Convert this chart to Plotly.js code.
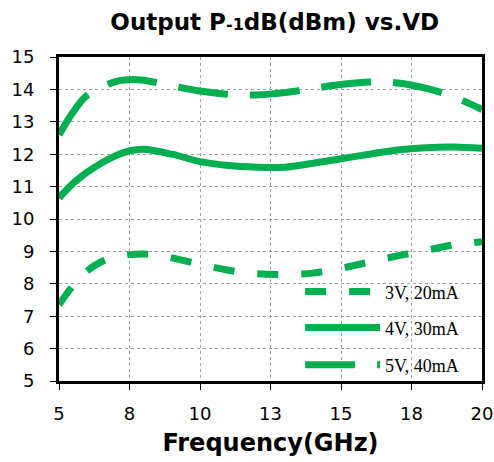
<!DOCTYPE html>
<html>
<head>
<meta charset="utf-8">
<script src="https://cdn.plot.ly/plotly-3.0.1.min.js"></script>
<style>html,body{margin:0;padding:0;background:#fff;}#chart{width:494px;height:462px;}</style>
</head>
<body>
<div id="chart"></div>
<script>
// Frequency (GHz)
const freq3V = [5, 5.5, 6, 6.5, 7, 7.5, 8, 8.5, 9, 10, 11, 12, 13, 14, 15, 16, 17, 18, 19, 20];
const p1dB_3V = [7.35, 7.95, 8.4, 8.68, 8.83, 8.9, 8.92, 8.88, 8.8, 8.6, 8.42, 8.31, 8.29, 8.33, 8.48, 8.67, 8.86, 9.03, 9.2, 9.3];

const freq4V = [5, 5.5, 6, 7, 7.5, 8, 9, 10, 11, 12, 13, 14, 15, 16, 17, 18, 19, 20];
const p1dB_4V = [10.65, 11.1, 11.45, 11.95, 12.1, 12.15, 12.0, 11.77, 11.65, 11.6, 11.6, 11.72, 11.86, 12.0, 12.13, 12.2, 12.22, 12.18];

const freq5V = [5, 5.5, 6, 7, 7.5, 8, 8.5, 9, 10, 11, 12, 13, 14, 15, 16, 17, 18, 19, 20];
const p1dB_5V = [12.6, 13.3, 13.82, 14.24, 14.3, 14.28, 14.2, 14.11, 13.95, 13.85, 13.83, 13.9, 14.03, 14.15, 14.23, 14.2, 14.04, 13.77, 13.38];

const seriesNames = ["3V, 20mA", "4V, 30mA", "5V, 40mA"];
const xTickVals = [5, 7.5, 10, 12.5, 15, 17.5, 20];
const xTickText = ["5", "8", "10", "13", "15", "18", "20"];
const yTickVals = [5, 6, 7, 8, 9, 10, 11, 12, 13, 14, 15];

const green = "#00B050";
const traces = [
  {x: freq3V, y: p1dB_3V, name: seriesNames[0], mode: "lines", legend: "legend",
   line: {color: green, width: 7, shape: "spline", dash: "21px,23px"}},
  {x: freq4V, y: p1dB_4V, name: seriesNames[1], mode: "lines", legend: "legend2",
   line: {color: green, width: 7, shape: "spline"}},
  {x: freq5V, y: p1dB_5V, name: seriesNames[2], mode: "lines", legend: "legend3",
   line: {color: green, width: 7, shape: "spline", dash: "50px,22px"}}
];

function legendAt(yc) {
  return {x: 0.57, xanchor: "left", y: yc, yanchor: "middle",
          bgcolor: "rgba(0,0,0,0)", borderwidth: 0, itemwidth: 75,
          font: {family: "Liberation Serif, serif", size: 18, color: "#000"}};
}

const layout = {
  width: 494, height: 462,
  margin: {l: 59, r: 12, t: 57, b: 81},
  paper_bgcolor: "#fff", plot_bgcolor: "#fff",
  font: {family: "DejaVu Sans, sans-serif", color: "#000"},
  title: {text: 'Output P<span style="font-size:16px">-1</span>dB(dBm) vs.VD',
          font: {family: "DejaVu Sans, sans-serif", size: 23, weight: "bold", color: "#000"},
          xref: "paper", x: 0.51, xanchor: "center", y: 0.952, yanchor: "middle"},
  showlegend: true,
  legend: legendAt(0.275),
  legend2: legendAt(0.164),
  legend3: legendAt(0.049),
  xaxis: {range: [5, 20], tickvals: xTickVals, ticktext: xTickText,
          showline: true, linecolor: "#000", linewidth: 3, mirror: true,
          ticks: "outside", ticklen: 6, tickcolor: "#000", tickwidth: 1,
          showgrid: true, gridcolor: "#a0a0a0", gridwidth: 1, griddash: "dot",
          zeroline: false, ticklabelstandoff: 8, ticklabeloverflow: "allow",
          tickfont: {size: 18, family: "DejaVu Sans, sans-serif"},
          title: {text: "Frequency(GHz)", standoff: 12,
                  font: {size: 24, weight: "bold", family: "DejaVu Sans, sans-serif"}}},
  yaxis: {range: [5, 15], tickvals: yTickVals,
          showline: true, linecolor: "#000", linewidth: 3, mirror: true,
          ticks: "outside", ticklen: 6, tickcolor: "#000", tickwidth: 1,
          showgrid: true, gridcolor: "#a0a0a0", gridwidth: 1, griddash: "dot",
          zeroline: false, ticklabelstandoff: 12,
          tickfont: {size: 18, family: "DejaVu Sans, sans-serif"}}
};

Plotly.newPlot("chart", traces, layout, {displayModeBar: false, staticPlot: true});
</script>
</body>
</html>
